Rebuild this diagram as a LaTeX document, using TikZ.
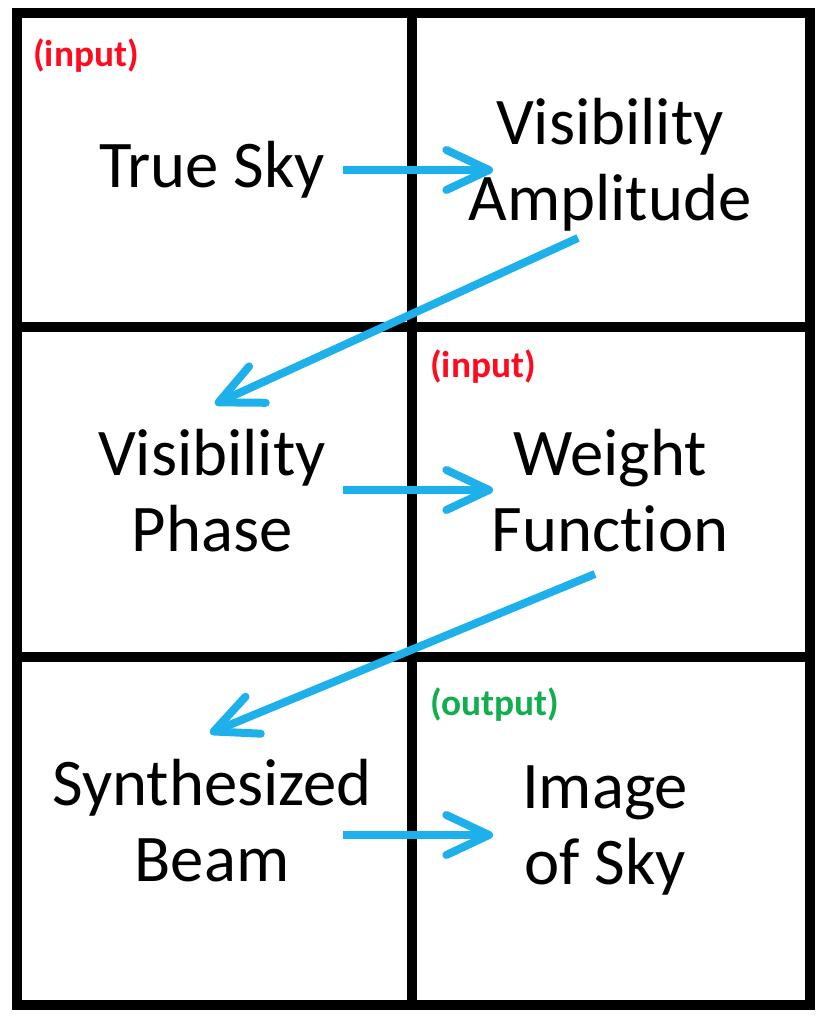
\documentclass[tikz,border=0pt]{standalone}
\usepackage{fontspec}
\setmainfont[Ligatures=NoCommon]{Carlito}
\usetikzlibrary{arrows.meta}
\definecolor{flowblue}{HTML}{1EB0EA}
\definecolor{tagred}{HTML}{FF0A1E}
\definecolor{taggreen}{HTML}{12AD4E}
\begin{document}
\begin{tikzpicture}[x=0.75pt,y=-0.75pt]
        \tikzstyle{every node}=[inner sep=0pt, align=center, font=\fontsize{50}{57}\selectfont, text=black]
        \tikzstyle{tag}=[anchor=west, font=\fontsize{28}{30}\selectfont\bfseries]
        \tikzstyle{grid}=[black, line width=7.5pt]
        \tikzstyle{flow}=[flowblue, line width=6pt, -{Straight Barb[length=32pt, width=30pt, round]}]

        \useasboundingbox (0,0) rectangle (824,1020);

        % cells
        \draw[grid] (17,13) rectangle (810,1005);
        \draw[grid] (412,13) -- (412,1005);
        \draw[grid] (17,327) -- (810,327);
        \draw[grid] (17,657) -- (810,657);

        \node (sky)    at (212,170) {True Sky};
        \node (amp)    at (610,165) {Visibility\\Amplitude};
        \node (phase)  at (212,491) {Visibility\\Phase};
        \node (weight) at (610,491) {Weight\\Function};
        \node (beam)   at (212,821) {Synthesized\\Beam};
        \node (image)  at (605,830) {Image\\of Sky};

        \node[tag, text=tagred]   (in1) at (33,56)  {(input)};
        \node[tag, text=tagred]   (in2) at (430,367) {(input)};
        \node[tag, text=taggreen] (out) at (430,705) {(output)};

        % arrow ends
        \coordinate (a1) at (343,170);  \coordinate (b1) at (493,170);
        \coordinate (a2) at (578,238);  \coordinate (b2) at (215,404);
        \coordinate (a3) at (343,490);  \coordinate (b3) at (493,490);
        \coordinate (a4) at (595,574);  \coordinate (b4) at (210,733);
        \coordinate (a5) at (343,835);  \coordinate (b5) at (493,835);

        \draw[flow] (a1) -- (b1);
        \draw[flow] (a2) -- (b2);
        \draw[flow] (a3) -- (b3);
        \draw[flow] (a4) -- (b4);
        \draw[flow] (a5) -- (b5);
    \end{tikzpicture}
\end{document}
